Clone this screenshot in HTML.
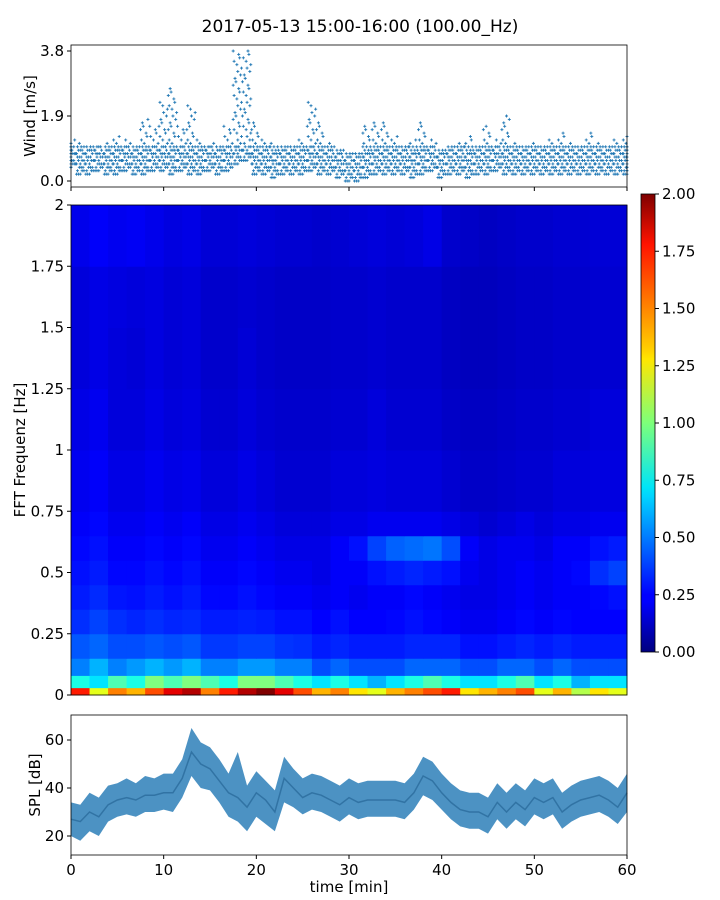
<!DOCTYPE html>
<html><head><meta charset="utf-8"><style>
body{margin:0;background:#fff;}
svg{display:block;font-family:"DejaVu Sans","Liberation Sans",sans-serif;}
</style></head><body>
<svg id="fig" width="720" height="900" viewBox="0 0 720 900">
<text x="360" y="32" text-anchor="middle" font-size="17">2017-05-13 15:00-16:00 (100.00_Hz)</text>
<defs><linearGradient id="jet" x1="0" y1="1" x2="0" y2="0">
<stop offset="0" stop-color="#00007f"/><stop offset="0.11" stop-color="#0000ff"/><stop offset="0.125" stop-color="#0000ff"/><stop offset="0.34" stop-color="#00d4ff"/><stop offset="0.36" stop-color="#00e5f7"/><stop offset="0.5" stop-color="#7dff7a"/><stop offset="0.64" stop-color="#ffe600"/><stop offset="0.66" stop-color="#ffd000"/><stop offset="0.89" stop-color="#ff1300"/><stop offset="1" stop-color="#7f0000"/></linearGradient></defs>
<g id="wind"></g>
<g id="spec"></g>
<g id="cbar"></g>
<g id="spl"></g>
</svg>
<script>
const windLow=[0.4,0.2,0.2,0.3,0.2,0.2,0.3,0.2,0.2,0.3,0.3,0.2,0.3,0.2,0.2,0.3,0.2,0.3,0.5,0.6,0.2,0.2,0.1,0.2,0.2,0.2,0.3,0.2,0.2,0.1,0.0,0.0,0.1,0.2,0.2,0.2,0.2,0.1,0.2,0.3,0.1,0.2,0.2,0.1,0.2,0.2,0.3,0.2,0.2,0.2,0.2,0.2,0.2,0.2,0.2,0.2,0.2,0.2,0.2,0.2,0.2];
const windHigh=[1.2,1.1,1.0,1.0,1.1,1.3,1.2,1.0,1.8,1.6,2.3,2.7,1.6,2.2,1.2,1.1,1.0,1.6,3.8,3.8,1.7,1.2,1.1,1.0,1.0,1.2,2.3,1.7,1.1,0.9,0.8,0.8,1.6,1.7,1.7,1.3,1.0,1.2,1.7,1.2,0.9,1.0,1.1,1.3,1.0,1.6,1.2,1.9,1.1,1.0,1.1,1.0,1.2,1.4,1.1,1.0,1.4,1.1,1.0,1.2,1.3];
const splMean=[27,26,30,28,33,35,36,35,37,37,38,38,44,55,50,48,43,38,36,32,38,35,30,44,40,36,38,37,35,33,36,34,35,35,35,35,34,38,45,43,38,34,31,30,30,28,34,30,34,31,36,34,36,30,33,35,36,37,35,32,38];
const splMin=[20,18,22,20,26,28,29,28,30,30,31,30,36,45,40,39,34,28,26,22,28,25,22,34,32,29,31,30,28,26,29,27,28,28,28,28,27,31,37,35,31,27,24,23,23,21,27,23,27,24,29,27,29,23,26,28,29,30,28,25,30];
const splMax=[34,33,38,36,41,42,44,42,45,44,46,46,52,65,59,57,52,46,55,41,47,43,39,53,48,44,46,45,43,41,44,42,43,43,43,43,42,46,53,51,46,42,39,38,38,36,42,38,42,39,44,42,44,38,41,43,44,45,43,40,46];
const freqEdges=[0,0.03,0.08,0.15,0.25,0.35,0.45,0.55,0.65,0.75,1.0,1.25,1.5,1.75,2.0];
const specRows=[
[1.7,1.2,1.5,1.4,1.6,1.8,1.9,1.5,1.7,1.9,2.0,1.8,1.6,1.4,1.5,1.3,1.2,1.4,1.5,1.6,1.7,1.3,1.4,1.5,1.6,1.2,1.4,1.1,1.3,1.2],
[0.8,0.7,0.9,0.8,1.0,0.9,1.0,0.9,0.8,1.0,1.0,0.9,0.8,0.7,0.8,0.7,0.6,0.7,0.8,0.9,0.8,0.7,0.7,0.8,0.9,0.7,0.8,0.6,0.7,0.7],
[0.5,0.6,0.5,0.55,0.6,0.55,0.6,0.5,0.5,0.55,0.55,0.5,0.5,0.4,0.45,0.4,0.4,0.4,0.45,0.45,0.45,0.4,0.4,0.45,0.45,0.4,0.45,0.4,0.4,0.4],
[0.42,0.45,0.4,0.4,0.42,0.4,0.42,0.36,0.36,0.38,0.38,0.35,0.34,0.3,0.32,0.3,0.3,0.3,0.32,0.32,0.32,0.28,0.28,0.3,0.32,0.3,0.32,0.3,0.3,0.3],
[0.34,0.38,0.34,0.32,0.34,0.32,0.33,0.3,0.3,0.31,0.3,0.28,0.28,0.25,0.28,0.25,0.25,0.26,0.28,0.26,0.24,0.22,0.22,0.24,0.26,0.24,0.26,0.25,0.25,0.25],
[0.3,0.33,0.29,0.28,0.3,0.28,0.3,0.26,0.26,0.28,0.26,0.24,0.24,0.22,0.24,0.22,0.24,0.24,0.26,0.24,0.22,0.2,0.2,0.22,0.24,0.22,0.24,0.24,0.26,0.28],
[0.28,0.3,0.26,0.26,0.28,0.26,0.28,0.24,0.24,0.26,0.24,0.22,0.22,0.2,0.24,0.24,0.28,0.3,0.32,0.3,0.28,0.22,0.2,0.22,0.24,0.22,0.24,0.26,0.34,0.38],
[0.26,0.28,0.24,0.24,0.26,0.24,0.26,0.22,0.22,0.24,0.22,0.2,0.2,0.2,0.24,0.28,0.38,0.44,0.46,0.48,0.4,0.24,0.2,0.22,0.22,0.2,0.24,0.24,0.28,0.3],
[0.24,0.26,0.22,0.22,0.24,0.22,0.24,0.2,0.2,0.22,0.2,0.18,0.18,0.18,0.2,0.2,0.22,0.22,0.22,0.22,0.2,0.18,0.16,0.18,0.2,0.18,0.2,0.2,0.22,0.22],
[0.22,0.24,0.2,0.2,0.22,0.2,0.21,0.18,0.18,0.2,0.18,0.16,0.16,0.16,0.18,0.18,0.19,0.18,0.18,0.18,0.16,0.14,0.14,0.15,0.16,0.16,0.18,0.18,0.19,0.19],
[0.2,0.22,0.18,0.18,0.2,0.18,0.19,0.16,0.16,0.18,0.16,0.15,0.15,0.15,0.16,0.16,0.18,0.16,0.16,0.16,0.14,0.13,0.13,0.14,0.15,0.15,0.16,0.16,0.18,0.18],
[0.18,0.2,0.18,0.17,0.19,0.17,0.18,0.15,0.15,0.17,0.15,0.14,0.14,0.14,0.15,0.15,0.16,0.15,0.15,0.15,0.13,0.12,0.12,0.13,0.14,0.14,0.15,0.15,0.16,0.16],
[0.18,0.2,0.19,0.18,0.19,0.17,0.18,0.15,0.15,0.16,0.15,0.14,0.14,0.14,0.15,0.15,0.16,0.15,0.15,0.15,0.13,0.12,0.12,0.13,0.14,0.14,0.15,0.15,0.16,0.16],
[0.21,0.24,0.22,0.23,0.21,0.19,0.2,0.17,0.17,0.18,0.17,0.16,0.16,0.15,0.16,0.17,0.18,0.17,0.18,0.2,0.15,0.14,0.13,0.14,0.15,0.15,0.16,0.16,0.17,0.17]];
const xTicks=[0,10,20,30,40,50,60];
const windTicks=[0.0,1.9,3.8];
const freqTicks=[0,0.25,0.5,0.75,1,1.25,1.5,1.75,2];
const freqLabels=["0","0.25","0.5","0.75","1","1.25","1.5","1.75","2"];
const cbTicks=[0,0.25,0.5,0.75,1,1.25,1.5,1.75,2];
const splTicks=[20,40,60];

const NS="http://www.w3.org/2000/svg";
function mk(p,t,a){const e=document.createElementNS(NS,t);for(const k in a)e.setAttribute(k,a[k]);p.appendChild(e);return e;}
const X0=71,X1=627;
const xs=m=>X0+(m/60)*(X1-X0);
const yw=v=>181-v*(130/3.8);
const yf=f=>695-f*245;
const ys=v=>836-(v-20)*2.4;
function jet(v){let t=Math.max(0,Math.min(1,v/2));
 const r=Math.max(0,Math.min(1,1.5-Math.abs(4*t-3))),g=Math.max(0,Math.min(1,1.5-Math.abs(4*t-2))),b=Math.max(0,Math.min(1,1.5-Math.abs(4*t-1)));
 return `rgb(${Math.round(r*255)},${Math.round(g*255)},${Math.round(b*255)})`;}

// wind panel
const W=document.getElementById('wind');
const offs=[0.1,0.5,0.3,0.7,0.9,0.2,0.6,0.4,0.8,0.0];
for(let i=0;i<windLow.length;i++){
 let k=0;
 for(let v=windLow[i];v<=windHigh[i]+1e-6;v+=0.1,k++){
  const reps=(v<=1.0)?3:1;
  for(let j=0;j<reps;j++){
   const cx=xs(Math.max(0,Math.min(60,i+offs[(k*3+j)%10]-0.5))),cy=yw(v);
   const p=mk(W,'path',{d:`M${cx-1.5},${cy}h3M${cx},${cy-1.5}v3`,stroke:'#1f77b4','stroke-width':0.9});
   
   
  }
 }
}
mk(W,'rect',{x:X0,y:45,width:X1-X0,height:142,fill:'none',stroke:'#000','stroke-width':0.8});
windTicks.forEach(v=>{mk(W,'line',{x1:X0-4,x2:X0,y1:yw(v),y2:yw(v),stroke:'#000'});
 const t=mk(W,'text',{x:X0-7,y:yw(v)+5,'text-anchor':'end','font-size':15});t.textContent=v.toFixed(1);
 });
xTicks.forEach(m=>mk(W,'line',{x1:xs(m),x2:xs(m),y1:187,y2:191,stroke:'#000'}));
let t=mk(W,'text',{x:35,y:116,'text-anchor':'middle','font-size':15,transform:'rotate(-90 35 116)'});t.textContent='Wind [m/s]';


// spectrogram
const S=document.getElementById('spec');
const nc=specRows[0].length;
specRows.forEach((row,r)=>row.forEach((v,c)=>{
 const x=xs(c*60/nc),x2=xs((c+1)*60/nc),y=yf(freqEdges[r+1]),y2=yf(freqEdges[r]);
 const e=mk(S,'rect',{x:x,y:y,width:x2-x+0.5,height:y2-y+0.5,fill:jet(v)});
 
 
}));
mk(S,'rect',{x:X0,y:205,width:X1-X0,height:490,fill:'none',stroke:'#000','stroke-width':0.8});
freqTicks.forEach((f,i)=>{mk(S,'line',{x1:X0-4,x2:X0,y1:yf(f),y2:yf(f),stroke:'#000'});
 const t=mk(S,'text',{x:X0-7,y:yf(f)+5,'text-anchor':'end','font-size':15});t.textContent=freqLabels[i];
 });
t=mk(S,'text',{x:25,y:450,'text-anchor':'middle','font-size':15,transform:'rotate(-90 25 450)'});t.textContent='FFT Frequenz [Hz]';


// colorbar
const C=document.getElementById('cbar');
mk(C,'rect',{x:641,y:194,width:14,height:458,fill:'url(#jet)',stroke:'#000','stroke-width':0.8});
cbTicks.forEach(v=>{const y=652-v/2*458;mk(C,'line',{x1:655,x2:659,y1:y,y2:y,stroke:'#000'});
 const t=mk(C,'text',{x:662,y:y+5,'font-size':15});t.textContent=v.toFixed(2);
 });

// SPL
const P=document.getElementById('spl');
let up='',dn='',mid='';
splMax.forEach((v,i)=>{up+=(i?'L':'M')+xs(i)+','+ys(v);});
for(let i=splMin.length-1;i>=0;i--)dn+='L'+xs(i)+','+ys(splMin[i]);
let e=mk(P,'path',{d:up+dn+'Z',fill:'#1f77b4','fill-opacity':0.8});

splMean.forEach((v,i)=>{mid+=(i?'L':'M')+xs(i)+','+ys(v);});
e=mk(P,'path',{d:mid,fill:'none',stroke:'#1f5f90','stroke-width':1.5,'stroke-opacity':0.6});

mk(P,'rect',{x:X0,y:715,width:X1-X0,height:140,fill:'none',stroke:'#000','stroke-width':0.8});
splTicks.forEach(v=>{mk(P,'line',{x1:X0-4,x2:X0,y1:ys(v),y2:ys(v),stroke:'#000'});
 const t=mk(P,'text',{x:X0-7,y:ys(v)+5,'text-anchor':'end','font-size':15});t.textContent=v;
 });
xTicks.forEach(m=>{mk(P,'line',{x1:xs(m),x2:xs(m),y1:855,y2:859,stroke:'#000'});
 const t=mk(P,'text',{x:xs(m),y:875,'text-anchor':'middle','font-size':15});t.textContent=m;
 });
t=mk(P,'text',{x:349,y:892,'text-anchor':'middle','font-size':15});t.textContent='time [min]';

t=mk(P,'text',{x:40,y:785,'text-anchor':'middle','font-size':15,transform:'rotate(-90 40 785)'});t.textContent='SPL [dB]';

</script>
</body></html>
